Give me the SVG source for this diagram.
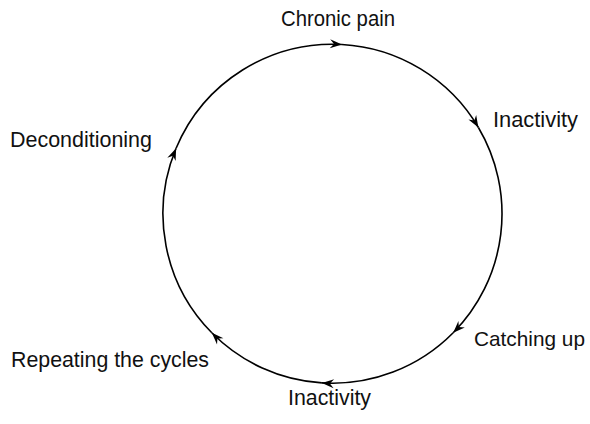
<svg xmlns="http://www.w3.org/2000/svg" width="590" height="424" viewBox="0 0 590 424">
<style>
.lbl{font-family:"Liberation Sans",Arial,sans-serif;font-size:22px;fill:#111;}
.arc{fill:none;stroke:#000;stroke-width:1.6;}
</style>
<defs>
<marker id="ah" markerUnits="userSpaceOnUse" markerWidth="16" markerHeight="12" viewBox="-13 -6 15 12" refX="0" refY="0" orient="auto">
<path d="M0,0 L-12,-4.5 L-8,0 L-12,4.5 Z" fill="#000"/>
</marker>
</defs>
<rect width="590" height="424" fill="#fff"/>
<g id="connectors">
<path class="arc" marker-end="url(#ah)" d="M176.1,148.3 A169.5,169.5 0 0 1 341.96,44.5"/>
<path class="arc" marker-end="url(#ah)" d="M341.96,44.5 A169.5,169.5 0 0 1 478.4,127.5"/>
<path class="arc" marker-end="url(#ah)" d="M478.4,127.5 A169.5,169.5 0 0 1 453.2,332.8"/>
<path class="arc" marker-end="url(#ah)" d="M453.2,332.8 A169.5,169.5 0 0 1 321.9,382.9"/>
<path class="arc" marker-end="url(#ah)" d="M321.9,382.9 A169.5,169.5 0 0 1 211.8,332.8"/>
<path class="arc" marker-end="url(#ah)" d="M211.8,332.8 A169.5,169.5 0 0 1 176.1,148.3"/>
</g>
<g id="chronic-pain"><text class="lbl" x="281" y="26" textLength="114" lengthAdjust="spacingAndGlyphs">Chronic pain</text></g>
<g id="inactivity-1"><text class="lbl" x="493" y="127" textLength="85" lengthAdjust="spacingAndGlyphs">Inactivity</text></g>
<g id="catching-up"><text class="lbl" x="474" y="346" font-size="21" style="font-size:21px" textLength="111" lengthAdjust="spacingAndGlyphs">Catching up</text></g>
<g id="inactivity-2"><text class="lbl" x="288" y="405" textLength="83" lengthAdjust="spacingAndGlyphs">Inactivity</text></g>
<g id="repeating"><text class="lbl" x="11" y="366.5" textLength="198" lengthAdjust="spacingAndGlyphs">Repeating the cycles</text></g>
<g id="deconditioning"><text class="lbl" x="10" y="147" textLength="142" lengthAdjust="spacingAndGlyphs">Deconditioning</text></g>
</svg>
